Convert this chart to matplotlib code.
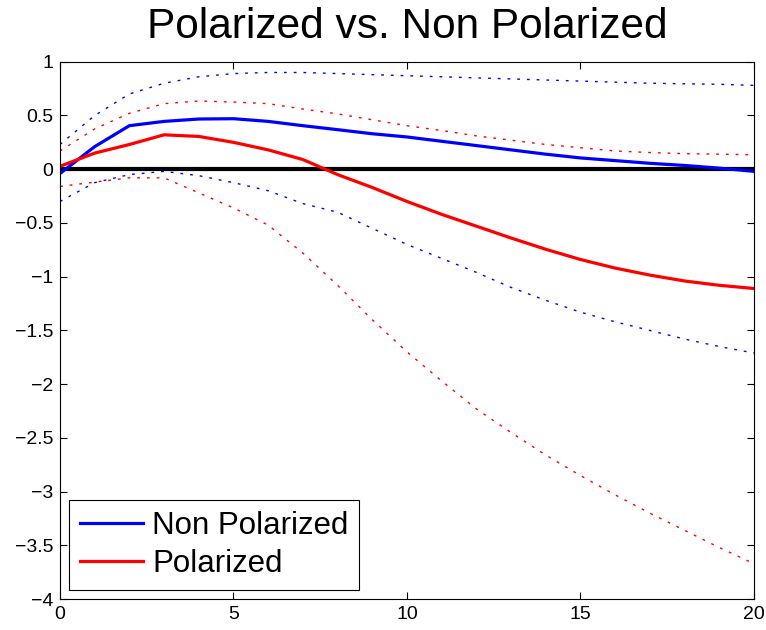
import numpy as np
import matplotlib
matplotlib.use("Agg")
import matplotlib.pyplot as plt

plt.rcParams['font.family'] = ['Liberation Sans', 'DejaVu Sans']

# horizon
horizon = list(range(0, 21))

# Non Polarized: point estimate and bands
non_pol = [-0.04, 0.21, 0.405, 0.445, 0.467, 0.47, 0.445, 0.405, 0.368, 0.33,
           0.30, 0.26, 0.22, 0.18, 0.14, 0.105, 0.08, 0.055, 0.035, 0.01, -0.02]
non_pol_hi = [0.23, 0.50, 0.70, 0.80, 0.86, 0.89, 0.90, 0.90, 0.89, 0.88,
              0.87, 0.86, 0.85, 0.84, 0.83, 0.82, 0.81, 0.80, 0.795, 0.79, 0.78]
non_pol_lo = [-0.30, -0.125, -0.05, -0.02, -0.06, -0.125, -0.20, -0.32, -0.40, -0.55,
              -0.70, -0.83, -0.96, -1.10, -1.22, -1.33, -1.42, -1.50, -1.58, -1.65, -1.71]

# Polarized: point estimate and bands
pol = [0.027, 0.15, 0.23, 0.32, 0.305, 0.25, 0.18, 0.09, -0.05, -0.17,
       -0.30, -0.42, -0.53, -0.64, -0.745, -0.84, -0.92, -0.985, -1.04, -1.08, -1.11]
pol_hi = [0.17, 0.375, 0.52, 0.61, 0.635, 0.625, 0.61, 0.56, 0.515, 0.46,
          0.405, 0.36, 0.31, 0.27, 0.23, 0.20, 0.17, 0.155, 0.145, 0.14, 0.135]
pol_lo = [-0.16, -0.12, -0.08, -0.08, -0.22, -0.36, -0.52, -0.78, -1.08, -1.40,
          -1.70, -1.97, -2.23, -2.45, -2.66, -2.85, -3.03, -3.20, -3.36, -3.52, -3.67]

fig = plt.figure(figsize=(7.66, 6.3), dpi=100)
ax = fig.add_axes([0.0783, 0.049, 0.906, 0.853])

dots = (0, (2, 5))
ax.plot(horizon, non_pol_hi, color='blue', lw=1.0, linestyle=dots)
ax.plot(horizon, non_pol_lo, color='blue', lw=1.0, linestyle=dots)
ax.plot(horizon, pol_hi, color='red', lw=1.0, linestyle=dots)
ax.plot(horizon, pol_lo, color='red', lw=1.0, linestyle=dots)

ax.axhline(0, color='black', lw=3)

ax.plot(horizon, non_pol, color='blue', lw=2.3, label='Non Polarized')
ax.plot(horizon, pol, color='red', lw=2.3, label='Polarized')

ax.set_xlim(0, 20)
ax.set_ylim(-4, 1)
ax.set_xticks([0, 5, 10, 15, 20])
ax.set_yticks(np.arange(-4, 1.01, 0.5))
ax.set_yticklabels(['−4', '−3.5', '−3', '−2.5', '−2', '−1.5', '−1', '−0.5', '0', '0.5', '1'])
ax.tick_params(direction='in', length=5, width=0.8, labelsize=14,
               top=True, right=True, pad=5)
for s in ax.spines.values():
    s.set_linewidth(0.8)

ax.set_title('Polarized vs. Non Polarized', fontsize=30.5, pad=17)

leg = ax.legend(loc='lower left', fontsize=22.5, fancybox=False, framealpha=1,
                edgecolor='black', borderpad=0.35, handlelength=2.0,
                handletextpad=0.3, labelspacing=0.25, borderaxespad=0.3)
leg.get_frame().set_linewidth(0.8)

fig.savefig('out.png', dpi=100)
